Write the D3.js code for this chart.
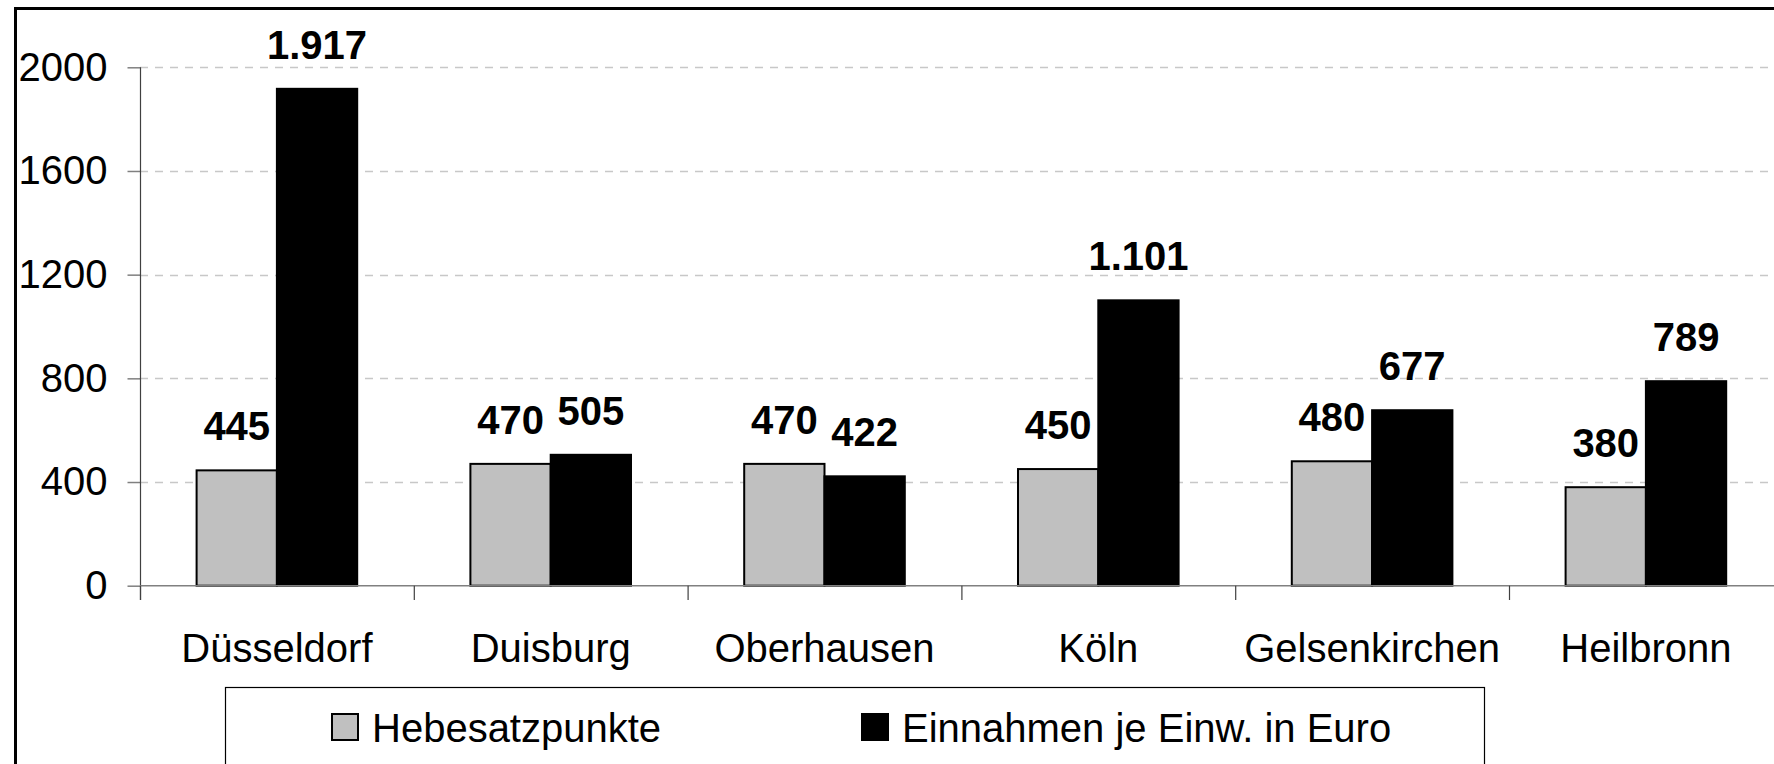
<!DOCTYPE html>
<html>
<head>
<meta charset="utf-8">
<title>Hebesatz</title>
<script src="https://cdn.jsdelivr.net/npm/d3@7"></script>
<style>
  body { margin: 0; background: #fff; }
  text { font-family: Arial, "Liberation Sans", sans-serif; }
</style>
</head>
<body>
<svg width="1774" height="764"></svg>
<script>
// Werte
var staedte = ["Düsseldorf", "Duisburg", "Oberhausen", "Köln", "Gelsenkirchen", "Heilbronn"];
var hebesatzpunkte = [445, 470, 470, 450, 480, 380];
var einnahmen = [1917, 505, 422, 1101, 677, 789];
var serien = ["Hebesatzpunkte", "Einnahmen je Einw. in Euro"];
var yTicks = [0, 400, 800, 1200, 1600, 2000];

var farben = ["#c0c0c0", "#000000"];

var svg = d3.select("svg");

// Rahmen (rechts/unten abgeschnitten)
svg.append("rect")
  .attr("x", 15.5).attr("y", 8.5)
  .attr("width", 1800).attr("height", 800)
  .attr("fill", "none").attr("stroke", "#000").attr("stroke-width", 3);

var left = 140, band = 273.8;
var x = d3.scaleBand().domain(staedte).range([left, left + staedte.length * band]);
var x1 = d3.scaleBand().domain(serien).range([56.6, 56.6 + 160.6]);
var y = d3.scaleLinear().domain([0, 2000]).range([585.7, 67.3]);

var de = d3.formatLocale({decimal: ",", thousands: ".", grouping: [3], currency: ["", "€"]});
var fmt = de.format(",d");

// Gitterlinien
svg.append("g").selectAll("line")
  .data(yTicks.filter(function(d){ return d > 0; }))
  .enter().append("line")
  .attr("x1", left).attr("x2", 1774)
  .attr("y1", function(d){ return Math.round(y(d)) + 0.5; })
  .attr("y2", function(d){ return Math.round(y(d)) + 0.5; })
  .attr("stroke", "#c8c8c8").attr("stroke-width", 1.5)
  .attr("stroke-dasharray", "8,7");

// Y-Achse
var yAxis = svg.append("g")
  .attr("transform", "translate(" + (left + 0.5) + ",0)")
  .call(d3.axisLeft(y).tickValues(yTicks).tickFormat(d3.format("d")).tickSize(13).tickPadding(20));
yAxis.select(".domain").remove();
yAxis.selectAll(".tick line").attr("stroke", "#808080").attr("stroke-width", 1.5);
yAxis.selectAll(".tick text")
  .attr("font-size", 40).attr("fill", "#000")
  .attr("font-family", "Arial, 'Liberation Sans', sans-serif");
svg.append("line")
  .attr("x1", left + 0.5).attr("x2", left + 0.5)
  .attr("y1", y(2000)).attr("y2", 600)
  .attr("stroke", "#404040").attr("stroke-width", 1.2);

// Balken
var gruppen = svg.append("g").selectAll("g")
  .data(staedte)
  .enter().append("g")
  .attr("transform", function(d){ return "translate(" + x(d) + ",0)"; });

gruppen.selectAll("rect")
  .data(function(d, i){ return [hebesatzpunkte[i], einnahmen[i]]; })
  .enter().append("rect")
  .attr("x", function(d, j){ return x1(serien[j]); })
  .attr("width", x1.bandwidth())
  .attr("y", function(d){ return y(d); })
  .attr("height", function(d){ return y(0) - y(d); })
  .attr("fill", function(d, j){ return farben[j]; })
  .attr("stroke", "#000").attr("stroke-width", 2);

gruppen.selectAll("text")
  .data(function(d, i){ return [hebesatzpunkte[i], einnahmen[i]]; })
  .enter().append("text")
  .attr("x", function(d, j){ return x1(serien[j]) + x1.bandwidth() / 2; })
  .attr("y", function(d){ return y(d) - 30; })
  .attr("text-anchor", "middle")
  .attr("font-size", 40).attr("font-weight", "bold")
  .text(function(d){ return fmt(d); });

// X-Achse
svg.append("line")
  .attr("x1", left).attr("x2", 1774)
  .attr("y1", y(0)).attr("y2", y(0))
  .attr("stroke", "#808080").attr("stroke-width", 1.5);
svg.append("g").selectAll("line")
  .data(d3.range(staedte.length + 1))
  .enter().append("line")
  .attr("x1", function(i){ return left + i * band + 0.5; })
  .attr("x2", function(i){ return left + i * band + 0.5; })
  .attr("y1", y(0)).attr("y2", 600)
  .attr("stroke", "#404040").attr("stroke-width", 1.2);

svg.append("g").selectAll("text")
  .data(staedte)
  .enter().append("text")
  .attr("x", function(d){ return x(d) + x.bandwidth() / 2; })
  .attr("y", 661.7)
  .attr("text-anchor", "middle")
  .attr("font-size", 40)
  .text(function(d){ return d; });

// Legende
svg.append("rect")
  .attr("x", 225.5).attr("y", 687.5)
  .attr("width", 1259).attr("height", 120)
  .attr("fill", "#fff").attr("stroke", "#000").attr("stroke-width", 1.2);

var legX = [332, 862];
var leg = svg.append("g").selectAll("g")
  .data(serien)
  .enter().append("g")
  .attr("transform", function(d, i){ return "translate(" + legX[i] + ",714)"; });
leg.append("rect")
  .attr("width", 26).attr("height", 26)
  .attr("fill", function(d, i){ return farben[i]; })
  .attr("stroke", "#000").attr("stroke-width", 2);
leg.append("text")
  .attr("x", 40).attr("y", 27.5)
  .attr("font-size", 40)
  .text(function(d){ return d; });
</script>
</body>
</html>
